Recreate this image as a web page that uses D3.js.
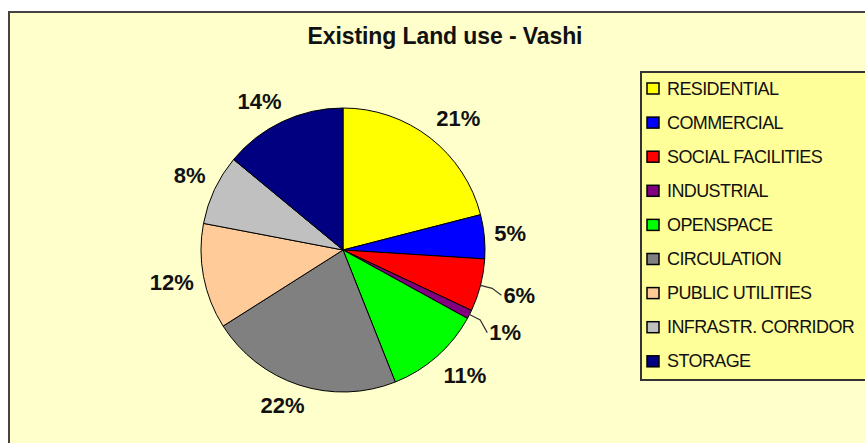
<!DOCTYPE html>
<html><head><meta charset="utf-8">
<script src="https://cdn.jsdelivr.net/npm/d3@7/dist/d3.min.js"></script>
<style>
html,body{margin:0;padding:0;background:#fff;}
svg{display:block;font-family:Arial,"Liberation Sans",sans-serif;}
</style></head>
<body>
<svg id="chart" width="865" height="443"></svg>
<script>
const title = "Existing Land use - Vashi";
const categories = ["RESIDENTIAL","COMMERCIAL","SOCIAL FACILITIES","INDUSTRIAL","OPENSPACE","CIRCULATION","PUBLIC UTILITIES","INFRASTR. CORRIDOR","STORAGE"];
const values = [21, 5, 6, 1, 11, 22, 12, 8, 14];
const colors = ["#FFFF00","#0000FF","#FF0000","#800080","#00FF00","#808080","#FFCC99","#C0C0C0","#000080"];
const leaderCats = ["SOCIAL FACILITIES","INDUSTRIAL"];

const svg = d3.select("#chart");

// chart area
svg.append("rect").attr("x", 9).attr("y", 12).attr("width", 880).attr("height", 450)
  .attr("fill", "#FFFFCC").attr("stroke", "#444").attr("stroke-width", 2);

svg.append("text").attr("x", 445).attr("y", 44).attr("text-anchor", "middle")
  .attr("font-size", 23).attr("font-weight", "bold").attr("letter-spacing", -0.1)
  .attr("fill", "#111").text(title);

const cx = 343, cy = 250, r = 142;
const data = categories.map((c, i) => ({cat: c, value: values[i], color: colors[i]}));
const pie = d3.pie().sort(null).value(d => d.value);
const arcs = pie(data);
const arc = d3.arc().innerRadius(0).outerRadius(r);
const total = d3.sum(values);

const g = svg.append("g").attr("transform", `translate(${cx},${cy})`);
g.selectAll("path.slice").data(arcs).join("path").attr("class", "slice")
  .attr("d", arc).attr("fill", d => d.data.color)
  .attr("stroke", "#000").attr("stroke-width", 1);

function pt(angle, rad) { return [Math.sin(angle) * rad, -Math.cos(angle) * rad]; }
const clamp = x => Math.max(-1, Math.min(1, x));

arcs.forEach(d => {
  const mid = (d.startAngle + d.endAngle) / 2;
  const isLeader = leaderCats.includes(d.data.cat);
  const txt = Math.round(d.data.value / total * 100) + "%";
  const t = g.append("text")
    .attr("text-anchor", "middle").attr("dominant-baseline", "central")
    .attr("font-size", 22).attr("font-weight", "bold")
    .attr("fill", "#111").text(txt);
  const w = t.node().getComputedTextLength(), h = 22;
  let lx, ly;
  if (isLeader) {
    [lx, ly] = pt(mid, 182);
  } else {
    const [px, py] = pt(mid, r + 10);
    lx = px + w / 2 * clamp(2 * Math.sin(mid));
    ly = py - h / 2 * clamp(2 * Math.cos(mid));
  }
  t.attr("x", lx).attr("y", ly);
  if (isLeader) {
    const p0 = pt(mid, r);
    const p1 = pt(mid, r + 12);
    const p2 = [lx - w / 2 - 2, ly];
    g.append("polyline").attr("points", [p0, p1, p2].map(p => p.join(",")).join(" "))
      .attr("fill", "none").attr("stroke", "#333").attr("stroke-width", 1.2);
  }
});

// legend
const lg = svg.append("g");
lg.append("rect").attr("x", 641).attr("y", 72).attr("width", 240).attr("height", 308)
  .attr("fill", "#FFFF99").attr("stroke", "#333").attr("stroke-width", 2);
const ly0 = 88.5, lstep = 34.1;
const items = lg.selectAll("g.item").data(data).join("g").attr("class", "item")
  .attr("transform", (d, i) => `translate(647,${ly0 + i * lstep})`);
items.append("rect").attr("x", 0).attr("y", -5.5).attr("width", 12).attr("height", 11)
  .attr("fill", d => d.color).attr("stroke", "#000").attr("stroke-width", 1.5);
items.append("text").attr("x", 20).attr("y", 0).attr("dominant-baseline", "central")
  .attr("font-size", 18).attr("letter-spacing", -0.6).attr("fill", "#111")
  .text(d => d.cat);
</script>
</body></html>
